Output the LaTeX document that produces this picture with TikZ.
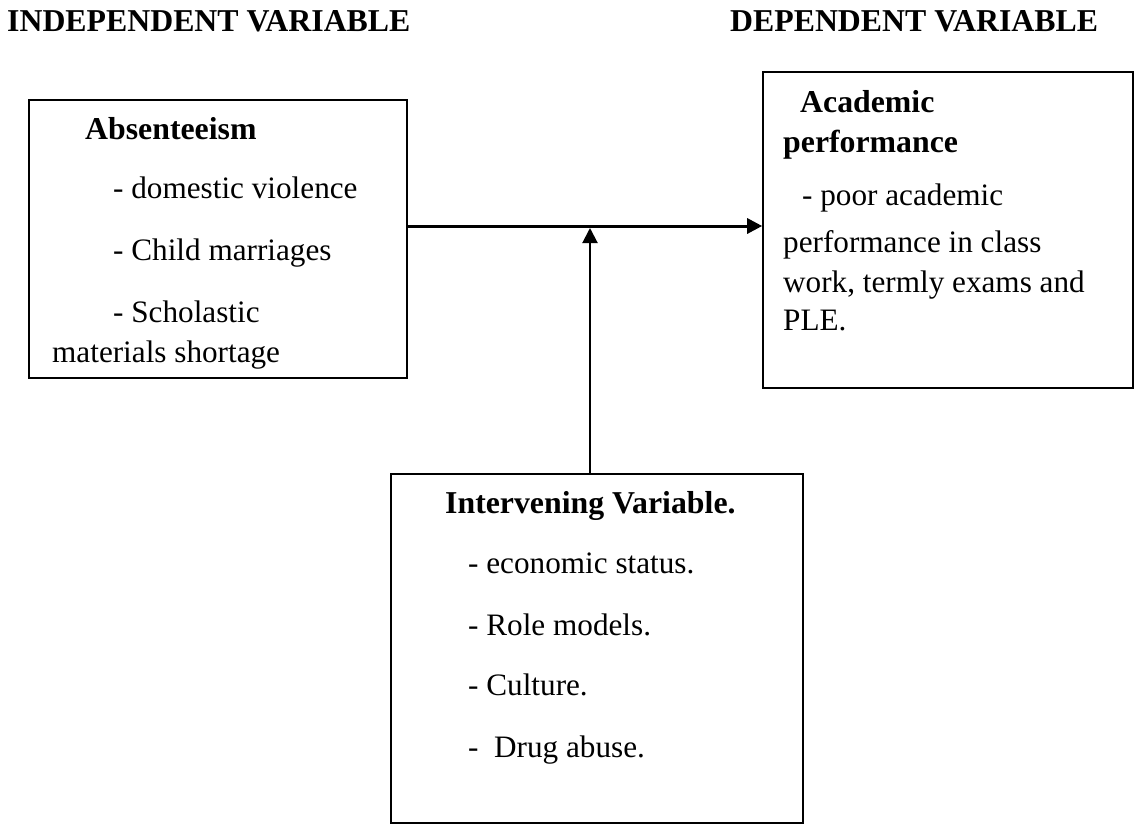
\documentclass[tikz,border=0pt]{standalone}
\usepackage{fontspec}
\setmainfont{Liberation Serif}
\usetikzlibrary{arrows.meta}
\def\sz{\fontsize{31.2}{37}\selectfont}
\def\bsz{\fontsize{31.8}{37}\selectfont}
\tikzset{
	varbox/.style={draw, rectangle, line width=1.6pt, inner sep=0pt},
	txt/.style={anchor=base west, inner sep=0pt, font=\sz},
	btxt/.style={txt, font=\bsz\bfseries},
}
\begin{document}
\begin{tikzpicture}[x=1pt, y=-1pt, line join=miter, >={Triangle[length=15pt,width=15pt]}]
		\useasboundingbox (0,0) rectangle (1138,825);
		\node[btxt] (indep) at (7,31) {INDEPENDENT VARIABLE};
		\node[btxt] (dep) at (730,31) {DEPENDENT VARIABLE};
		\node[varbox, minimum width=378pt, minimum height=278pt] (absent) at (218,239) {};
		\node[varbox, minimum width=370pt, minimum height=316pt] (acad) at (948,230) {};
		\node[varbox, minimum width=412pt, minimum height=349pt] (interv) at (597,648.5) {};
		\node[btxt] (absT) at (85,139) {Absenteeism};
		\node[txt] (abs1) at (113,198) {- domestic violence};
		\node[txt] (abs2) at (113,260) {- Child marriages};
		\node[txt] (abs3) at (113,322) {- Scholastic};
		\node[txt] (abs4) at (52,362) {materials shortage};
		\node[btxt] (acadT) at (800,112) {Academic};
		\node[btxt] (acadT2) at (783,152) {performance};
		\node[txt] (acad1) at (802,205) {- poor academic};
		\node[txt] (acad2) at (783,252) {performance in class};
		\node[txt] (acad3) at (783,292) {work, termly exams and};
		\node[txt] (acad4) at (783,330) {PLE.};
		\node[btxt] (intT) at (445,513) {Intervening Variable.};
		\foreach \y/\t [count=\i] in {573/{- economic status.}, 635/{- Role models.}, 695/{- Culture.}, 757/{- \ Drug abuse.}}
			\node[txt] (int\i) at (468,\y) {\t};
		\coordinate (hub) at (590,226);
		\coordinate (hubtip) at (590,228);
		\draw[->, line width=3pt] (absent.east |- hub)--(acad.west |- hub);
		\draw[->, line width=2pt] (interv.north -| hubtip)--(hubtip);
\end{tikzpicture}
\end{document}
